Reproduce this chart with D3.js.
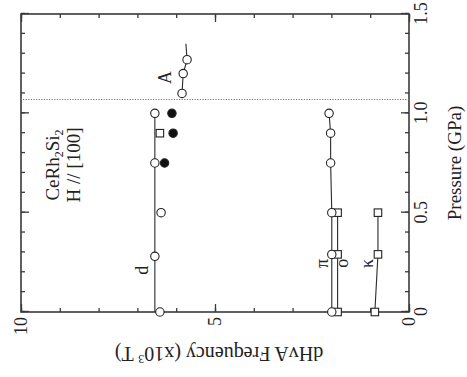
<!DOCTYPE html>
<html>
<head>
<meta charset="utf-8">
<script src="https://cdn.jsdelivr.net/npm/d3@7"></script>
<style>
  html, body { margin: 0; padding: 0; background: #fff; }
  svg { display: block; }
  text { font-family: "Liberation Serif", "DejaVu Serif", serif; fill: #222; }
</style>
</head>
<body>
<script>
// dHvA frequencies (x10^3 T) of CeRh2Si2 branches versus pressure (GPa), H // [100]
const pressureTicks = [0, 0.5, 1.0, 1.5];
const pressureTickLabels = ["0", "0.5", "1.0", "1.5"];
const freqTicks = [0, 5, 10];
const freqTickLabels = ["0", "5", "10"];

// branch d
const dPressure = [0, 0.28, 0.5, 0.75, 1.0];
const dFreq = [6.42, 6.55, 6.39, 6.55, 6.55];
const dLineP = [0, 1.0];
const dLineF = [6.55, 6.55];
const dSquareP = [0.9];
const dSquareF = [6.42];
// filled points beside branch d
const dFilledP = [0.75, 0.9, 1.0];
const dFilledF = [6.30, 6.08, 6.11];

// branch A (above the transition)
const aPressure = [1.10, 1.20, 1.27];
const aFreq = [5.85, 5.82, 5.72];
const aLineP = [1.10, 1.20, 1.27, 1.35];
const aLineF = [5.85, 5.82, 5.72, 5.75];

// branch pi
const piPressure = [0, 0.29, 0.5, 0.75, 0.9, 1.0];
const piFreq = [1.99, 1.99, 1.99, 2.02, 2.02, 2.06];

// branch o
const oPressure = [0, 0.29, 0.5];
const oFreq = [1.84, 1.84, 1.84];

// branch kappa
const kPressure = [0, 0.29, 0.5];
const kFreq = [0.88, 0.80, 0.80];

// critical pressure marker
const transitionP = 1.07;

const W = 467, H = 377;
const svg = d3.select("body").append("svg").attr("width", W).attr("height", H);

// the figure is laid out with pressure along x and frequency along y,
// then turned a quarter turn counter-clockwise
const g = svg.append("g").attr("transform", `translate(0,${H}) rotate(-90)`);

const x = d3.scaleLinear().domain([0, 1.5]).range([65, 363]);
const y = d3.scaleLinear().domain([0, 10]).range([409, 21]);

const axisColor = "#3a3a3a";
const pMinor = d3.range(0, 1.5001, 0.1).map(v => +v.toFixed(2));
const fMinor = d3.range(0, 10.001, 1);

function styleAxis(sel) {
  sel.select(".domain").remove();
  sel.selectAll(".tick line").attr("stroke", axisColor).attr("stroke-width", 1.3);
  sel.selectAll("text").attr("font-size", 18).attr("fill", "#222")
    .attr("font-family", '"Liberation Serif", serif');
}

// pressure axis (bottom) with labels, mirrored on top
g.append("g").attr("transform", `translate(0,${y(0)})`)
  .call(d3.axisBottom(x).tickValues(pMinor).tickSize(-4).tickSizeOuter(0).tickFormat(""))
  .call(styleAxis);
g.append("g").attr("transform", `translate(0,${y(0)})`)
  .call(d3.axisBottom(x).tickValues(pressureTicks).tickSize(-8).tickSizeOuter(0).tickPadding(5)
    .tickFormat((d, i) => pressureTickLabels[i]))
  .call(styleAxis);
g.append("g").attr("transform", `translate(0,${y(10)})`)
  .call(d3.axisTop(x).tickValues(pMinor).tickSize(-4).tickSizeOuter(0).tickFormat(""))
  .call(styleAxis);
g.append("g").attr("transform", `translate(0,${y(10)})`)
  .call(d3.axisTop(x).tickValues(pressureTicks).tickSize(-8).tickSizeOuter(0).tickFormat(""))
  .call(styleAxis);

// frequency axis (left) with labels, mirrored on right
g.append("g").attr("transform", `translate(${x(0)},0)`)
  .call(d3.axisLeft(y).tickValues(fMinor).tickSize(-4).tickSizeOuter(0).tickFormat(""))
  .call(styleAxis);
g.append("g").attr("transform", `translate(${x(0)},0)`)
  .call(d3.axisLeft(y).tickValues(freqTicks).tickSize(-8).tickSizeOuter(0).tickPadding(5)
    .tickFormat((d, i) => freqTickLabels[i]))
  .call(styleAxis);
g.append("g").attr("transform", `translate(${x(1.5)},0)`)
  .call(d3.axisRight(y).tickValues(fMinor).tickSize(-4).tickSizeOuter(0).tickFormat(""))
  .call(styleAxis);
g.append("g").attr("transform", `translate(${x(1.5)},0)`)
  .call(d3.axisRight(y).tickValues(freqTicks).tickSize(-8).tickSizeOuter(0).tickFormat(""))
  .call(styleAxis);

// frame
g.append("rect")
  .attr("x", x(0)).attr("y", y(10))
  .attr("width", x(1.5) - x(0)).attr("height", y(0) - y(10))
  .attr("fill", "none").attr("stroke", axisColor).attr("stroke-width", 1.6);

// dotted line at the transition pressure
g.append("line")
  .attr("x1", x(transitionP)).attr("x2", x(transitionP))
  .attr("y1", y(0)).attr("y2", y(10))
  .attr("stroke", "#777").attr("stroke-width", 1.1).attr("stroke-dasharray", "1.2,1.4");

// axis titles
g.append("text")
  .attr("x", (x(0) + x(1.5)) / 2).attr("y", 461)
  .attr("text-anchor", "middle").attr("font-size", 19)
  .text("Pressure (GPa)");

const yt = g.append("text")
  .attr("transform", `translate(30,${(y(0) + y(10)) / 2 + 4}) rotate(-90)`)
  .attr("text-anchor", "middle").attr("font-size", 20);
yt.append("tspan").text("dHvA Frequency (x10");
yt.append("tspan").attr("font-size", 12).attr("dy", -8).text("3");
yt.append("tspan").attr("dy", 8).text(" T)");

// sample and field direction
const t1 = g.append("text").attr("x", x(0.74)).attr("y", 59)
  .attr("text-anchor", "middle").attr("font-size", 19);
t1.append("tspan").text("CeRh");
t1.append("tspan").attr("font-size", 12).attr("dy", 4).text("2");
t1.append("tspan").attr("dy", -4).text("Si");
t1.append("tspan").attr("font-size", 12).attr("dy", 4).text("2");
g.append("text").attr("x", x(0.74)).attr("y", 80)
  .attr("text-anchor", "middle").attr("font-size", 19)
  .text("H // [100]");

// helpers
const lineGen = d3.line().x(d => x(d[0])).y(d => y(d[1]));
const zip = (a, b) => a.map((v, i) => [v, b[i]]);
const lineColor = "#2a2a2a";

function drawLine(P, F) {
  g.append("path").datum(zip(P, F)).attr("d", lineGen)
    .attr("fill", "none").attr("stroke", lineColor).attr("stroke-width", 1.1);
}
function drawCircles(P, F, filled) {
  g.append("g").selectAll("circle").data(zip(P, F)).join("circle")
    .attr("cx", d => x(d[0])).attr("cy", d => y(d[1])).attr("r", 4.2)
    .attr("fill", filled ? "#111" : "#fff").attr("stroke", "#222").attr("stroke-width", 1.1);
}
function drawSquares(P, F) {
  const s = 7.5;
  g.append("g").selectAll("rect").data(zip(P, F)).join("rect")
    .attr("x", d => x(d[0]) - s / 2).attr("y", d => y(d[1]) - s / 2)
    .attr("width", s).attr("height", s)
    .attr("fill", "#fff").attr("stroke", "#222").attr("stroke-width", 1.1);
}

// lines first, symbols on top
drawLine(dLineP, dLineF);
drawLine(aLineP, aLineF);
drawLine(oPressure, oFreq);
drawLine(piPressure, piFreq);
drawLine(kPressure, kFreq);

drawSquares(oPressure, oFreq);
drawCircles(piPressure, piFreq, false);
drawSquares(kPressure, kFreq);
drawCircles(dPressure, dFreq, false);
drawSquares(dSquareP, dSquareF);
drawCircles(dFilledP, dFilledF, true);
drawCircles(aPressure, aFreq, false);

// branch names
const branchLabels = [
  { name: "d", p: 0.21, f: 6.88 },
  { name: "A", p: 1.18, f: 6.29 },
  { name: "π", p: 0.245, f: 2.25 },
  { name: "o", p: 0.245, f: 1.73 },
  { name: "κ", p: 0.245, f: 1.09 }
];
g.append("g").selectAll("text").data(branchLabels).join("text")
  .attr("x", d => x(d.p)).attr("y", d => y(d.f))
  .attr("text-anchor", "middle").attr("dy", "0.35em").attr("font-size", 18)
  .text(d => d.name);
</script>
</body>
</html>
